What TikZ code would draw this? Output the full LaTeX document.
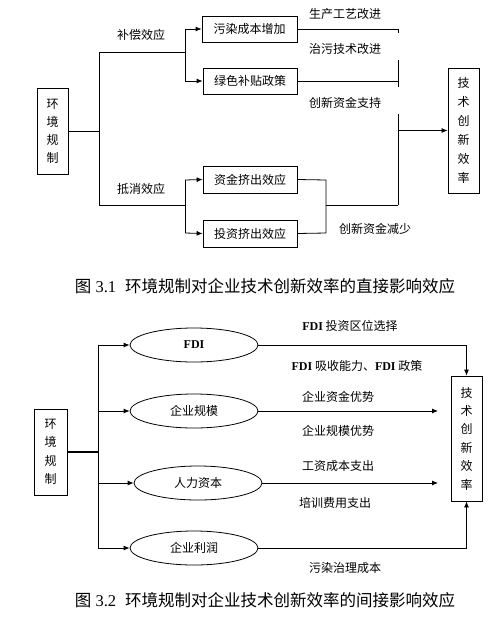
\documentclass[tikz,border=0pt]{standalone}
\usepackage{fontspec}
\setmainfont{Noto Sans CJK SC}
\newfontfamily\tnr{Liberation Serif}
\usetikzlibrary{arrows.meta,shapes.geometric}
\begin{document}
\begin{tikzpicture}[x=1pt,y=-1pt,
  every node/.style={font=\fontsize{12}{18}\selectfont, inner sep=0pt},
  box/.style={draw, line width=0.8pt, align=center},
  oval/.style={draw, ellipse, line width=0.8pt, minimum width=128pt, minimum height=34pt},
  ln/.style={line width=0.8pt},
  arr/.style={line width=0.8pt, -{Latex[length=6pt,width=5pt]}},
  captxt/.style={font=\fontsize{16.5}{18}\selectfont}]
\useasboundingbox (0,0) rectangle (503,619);
\fill[white] (0,0) rectangle (503,619);

% ---------- Figure 3.1 ----------
\node[box, minimum width=31pt, minimum height=86pt] (env1) at (52.5,131) {环\\境\\规\\制};
\node[box, minimum width=95pt, minimum height=26pt] (b1) at (249.5,29) {污染成本增加};
\node[box, minimum width=94pt, minimum height=26pt] (b2) at (250,81) {绿色补贴政策};
\node[box, minimum width=94pt, minimum height=27pt] (b3) at (250,179.5) {资金挤出效应};
\node[box, minimum width=94pt, minimum height=27pt] (b4) at (250,233.5) {投资挤出效应};
\node[box, minimum width=31pt, minimum height=125pt, font=\fontsize{12}{19}\selectfont] (t1) at (463.5,130.5) {技\\术\\创\\新\\效\\率};

\coordinate (j1) at (99,131);
\coordinate (ja) at (99,52);
\coordinate (jb) at (99,205);
\coordinate (ka) at (185,52);
\coordinate (kb) at (185,205);
\coordinate (k1) at (185,29);
\coordinate (k2) at (185,81);
\coordinate (k3) at (185,180);
\coordinate (k4) at (185,233);
\coordinate (r1) at (398,29);
\coordinate (r1e) at (398,33);
\coordinate (r2s) at (398,60);
\coordinate (r2) at (398,81);
\coordinate (r2e) at (398,87);
\coordinate (r3s) at (398,114);
\coordinate (rm) at (398,130.5);
\coordinate (r4) at (398,205);
\coordinate (m3) at (326,180);
\coordinate (m4) at (326,233);
\coordinate (mm) at (326,205);

\draw[ln] (env1.east) -- (j1);
\draw[ln] (ja) -- (jb);
\draw[ln] (ja) -- (ka);
\draw[ln] (jb) -- (kb);
\draw[ln] (k1) -- (k2);
\draw[ln] (k3) -- (k4);
\draw[arr] (k1) -- (b1.west);
\draw[arr] (k2) -- (b2.west);
\draw[arr] (k3) -- (b3.west);
\draw[arr] (k4) -- (b4.west);
\draw[ln] (b1.east) -- (r1) -- (r1e);
\draw[ln] (r2s) -- (r2e);
\draw[ln] (b2.east) -- (r2);
\draw[ln] (r3s) -- (r4);
\draw[arr] (rm) -- (t1.west);
\draw[ln] (b3.east) -- (m3) -- (m4) -- (b4.east);
\draw[ln] (mm) -- (r4);

\node (l1) at (141,35) {补偿效应};
\node (l2) at (141,189) {抵消效应};
\node (l3) at (345,14) {生产工艺改进};
\node (l4) at (345,49) {治污技术改进};
\node (l5) at (345,103) {创新资金支持};
\node (l6) at (375,229) {创新资金减少};

\node[captxt] (c1) at (265,286) {图{\tnr\ 3.1}\hspace{9pt}环境规制对企业技术创新效率的直接影响效应};

% ---------- Figure 3.2 ----------
\node[box, minimum width=33pt, minimum height=86pt, font=\fontsize{12}{18.5}\selectfont] (env2) at (50.5,452) {环\\境\\规\\制};
\node[oval] (e1) at (194,345) {\tnr\bfseries FDI};
\node[oval] (e2) at (194,411) {企业规模};
\node[oval] (e3) at (198,483) {人力资本};
\node[oval] (e4) at (194,548) {企业利润};
\node[box, minimum width=31pt, minimum height=125pt, font=\fontsize{12}{18.4}\selectfont] (t2) at (466.5,438.5) {技\\术\\创\\新\\效\\率};

\coordinate (j2) at (98,452);
\coordinate (q1) at (98,345);
\coordinate (q2) at (98,411);
\coordinate (q3) at (98,483);
\coordinate (q4) at (98,548);
\coordinate (p1) at (466.5,345);
\coordinate (p4) at (466.5,548);
\coordinate (a2) at (438,411);
\coordinate (a3) at (438,483);

\draw[line width=1.6pt] (env2.east) -- (j2);
\draw[ln] (q1) -- (q4);
\draw[arr] (q1) -- (e1.west);
\draw[arr] (q2) -- (e2.west);
\draw[arr] (q3) -- (e3.west);
\draw[arr] (q4) -- (e4.west);
\draw[ln] (e1.east) -- (p1);
\draw[arr] (p1) -- (t2.north);
\draw[arr] (e2.east) -- (a2);
\draw[arr] (e3.east) -- (a3);
\draw[ln] (e4.east) -- (p4);
\draw[arr] (p4) -- (t2.south);

\node (m1) at (350,326) {{\tnr\bfseries FDI} 投资区位选择};
\node (m2) at (357,366) {{\tnr\bfseries FDI} 吸收能力、{\tnr\bfseries FDI} 政策};
\node (m3l) at (338,397) {企业资金优势};
\node (m4l) at (338,431) {企业规模优势};
\node (m5) at (338,466) {工资成本支出};
\node (m6) at (335,503) {培训费用支出};
\node (m7) at (345,568) {污染治理成本};

\node[captxt] (c2) at (265,600) {图{\tnr\ 3.2}\hspace{9pt}环境规制对企业技术创新效率的间接影响效应};
\end{tikzpicture}
\end{document}
